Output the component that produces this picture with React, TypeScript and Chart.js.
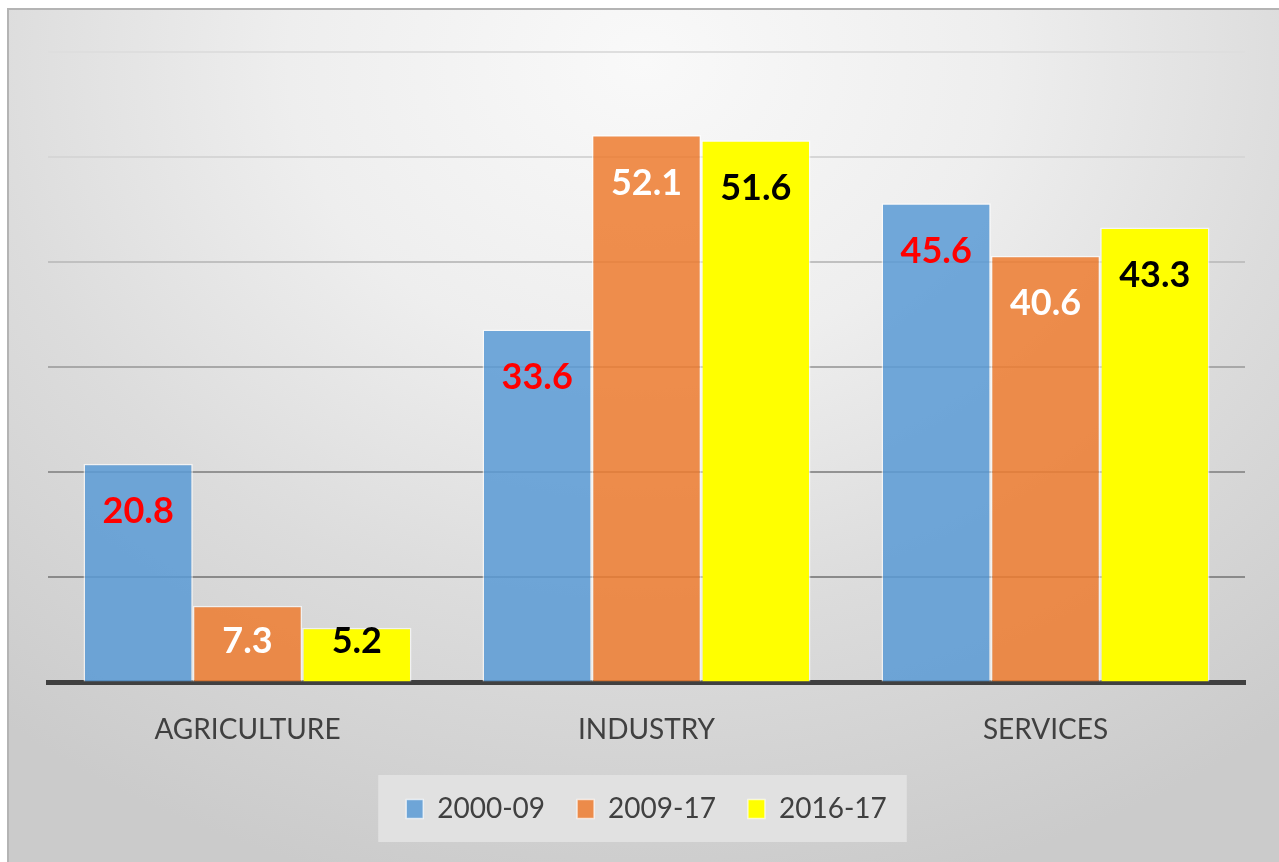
import React, { useEffect, useRef } from 'react';
import { Chart, registerables } from 'chart.js';

Chart.register(...registerables);

const categories = ['AGRICULTURE', 'INDUSTRY', 'SERVICES'];
const seriesNames = ['2000-09', '2009-17', '2016-17'];
const values2000to09 = [20.8, 33.6, 45.6];
const values2009to17 = [7.3, 52.1, 40.6];
const values2016to17 = [5.2, 51.6, 43.3];
const yMin = 0;
const yMax = 60;
const yStep = 10;

const FONT = 'Lato, "Open Sans", "DejaVu Sans", sans-serif';
const barColors = ['rgba(91,155,213,0.86)', 'rgba(237,125,49,0.86)', '#ffff00'];
const labelColors = ['#ff0000', '#ffffff', '#000000'];
const gridShades: Record<number, string> = {
  0: '#808080',
  10: '#8a8a8a',
  20: '#939393',
  30: '#a8a8a8',
  40: '#c0c0c0',
  50: '#d6d6d6',
  60: '#dedede',
};

export default function App() {
  const canvasRef = useRef<HTMLCanvasElement>(null);

  useEffect(() => {
    const canvas = canvasRef.current;
    if (!canvas) return;

    const legendBg = {
      id: 'legendBg',
      beforeDraw(chart: any) {
        const lg = chart.legend;
        const boxes = lg && lg.legendHitBoxes;
        if (!boxes || !boxes.length) return;
        const left = Math.min(...boxes.map((b: any) => b.left));
        const right = Math.max(...boxes.map((b: any) => b.left + b.width));
        const cy = boxes[0].top + boxes[0].height / 2;
        const ctx = chart.ctx;
        ctx.save();
        ctx.fillStyle = '#e1e1e1';
        ctx.fillRect(left - 28, cy - 34, right - left + 48, 67);
        ctx.restore();
      },
    };

    const valueLabels = {
      id: 'valueLabels',
      afterDatasetsDraw(chart: any) {
        const ctx = chart.ctx;
        ctx.save();
        ctx.font = `bold 36px ${FONT}`;
        ctx.textAlign = 'center';
        ctx.textBaseline = 'middle';
        chart.data.datasets.forEach((ds: any, i: number) => {
          const meta = chart.getDatasetMeta(i);
          meta.data.forEach((bar: any, j: number) => {
            const v = ds.data[j] as number;
            const y = Math.min(bar.y + 48, bar.base - 40);
            ctx.fillStyle = labelColors[i];
            ctx.fillText(v.toFixed(1), bar.x, y);
          });
        });
        ctx.restore();
      },
    };

    const chart = new Chart(canvas, {
      type: 'bar',
      data: {
        labels: categories,
        datasets: [
          { label: seriesNames[0], data: values2000to09 },
          { label: seriesNames[1], data: values2009to17 },
          { label: seriesNames[2], data: values2016to17 },
        ].map((d, i) => ({
          ...d,
          backgroundColor: barColors[i],
          borderColor: 'rgba(255,255,255,0.65)',
          borderWidth: 1.5,
          categoryPercentage: 0.822,
          barPercentage: 1,
        })),
      },
      options: {
        responsive: false,
        animation: false,
        layout: { padding: { left: 39, right: 34, top: 42, bottom: 29 } },
        scales: {
          x: {
            grid: { display: false, drawTicks: false },
            border: { display: true, color: '#404040', width: 5 },
            ticks: {
              color: '#404040',
              font: { family: FONT, size: 28 },
              padding: 31,
            },
            afterFit: (scale: any) => {
              scale.height -= 15;
            },
          },
          y: {
            min: yMin,
            max: yMax,
            ticks: { display: false, stepSize: yStep },
            grid: {
              drawTicks: false,
              lineWidth: 2,
              color: (c: any) => gridShades[c.tick ? c.tick.value : 0] || '#aaaaaa',
            },
            border: { display: false },
          },
        },
        plugins: {
          legend: {
            position: 'bottom',
            labels: {
              color: '#404040',
              font: { family: FONT, size: 28 },
              boxWidth: 17,
              boxHeight: 19,
              padding: 32,
            },
          },
          tooltip: { enabled: false },
        },
      },
      plugins: [legendBg, valueLabels],
    });

    return () => chart.destroy();
  }, []);

  return (
    <div
      style={{
        position: 'absolute',
        left: 7,
        top: 8,
        width: 1272,
        height: 854,
        boxSizing: 'border-box',
        borderTop: '2px solid #b4b4b4',
        borderLeft: '2px solid #b4b4b4',
        background:
          'radial-gradient(ellipse 80% 100% at 50% 6%, #f9f9f9 0%, #eeeeee 35%, #dcdcdc 65%, #cbcbcb 100%)',
        overflow: 'hidden',
      }}
    >
      <canvas ref={canvasRef} width={1270} height={852} style={{ display: 'block' }} />
    </div>
  );
}
